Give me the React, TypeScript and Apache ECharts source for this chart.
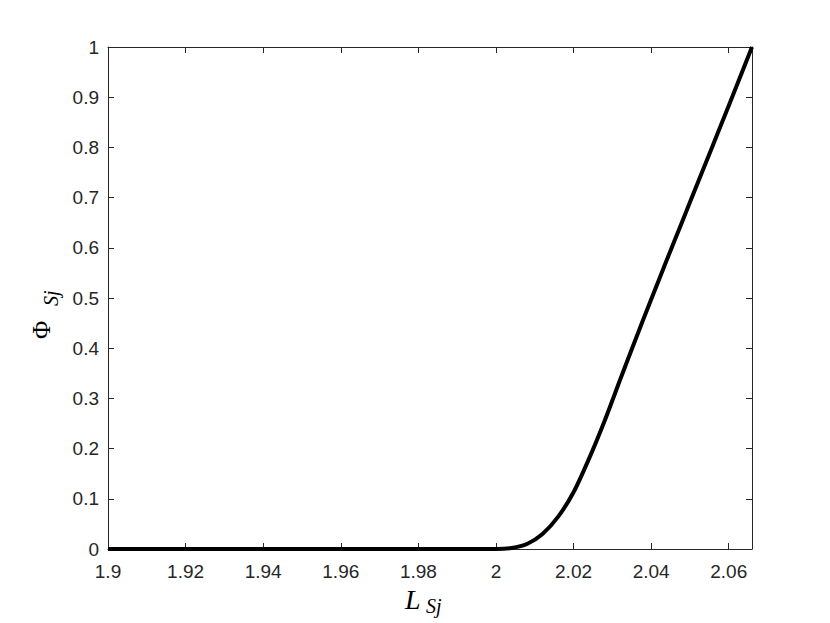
import React, { useEffect, useRef } from "react";
import * as echarts from "echarts";

// Data
const L_VALUES = [1.9, 2.0, 2.004, 2.008, 2.012, 2.016, 2.02, 2.024, 2.028, 2.032, 2.036, 2.04, 2.044, 2.048, 2.052, 2.056, 2.06, 2.066];
const PHI_VALUES = [0, 0, 0.002, 0.01, 0.03, 0.064, 0.113, 0.18, 0.255, 0.337, 0.418, 0.497, 0.575, 0.652, 0.729, 0.806, 0.883, 1.0];
const X_MIN = 1.9;
const X_MAX = 2.066;
const X_INTERVAL = 0.02;
const Y_MIN = 0;
const Y_MAX = 1;
const Y_INTERVAL = 0.1;

const AXIS_COLOR = "#262626";
const FONT = "'Liberation Sans', Arial, Helvetica, sans-serif";
const SERIF = "'Liberation Serif', 'DejaVu Serif', serif";

export default function App() {
  const ref = useRef<HTMLDivElement>(null);
  useEffect(() => {
    if (!ref.current) return;
    const chart = echarts.init(ref.current, undefined, { renderer: "svg" });
    const data = L_VALUES.map((x, i) => [x, PHI_VALUES[i]]);
    const axisCommon = {
      axisLine: { show: true, onZero: false, lineStyle: { color: AXIS_COLOR, width: 1 } },
      axisTick: { show: true, inside: true, length: 6, lineStyle: { color: AXIS_COLOR, width: 1 } },
      splitLine: { show: false },
    };
    chart.setOption({
      animation: false,
      backgroundColor: "#ffffff",
      grid: { left: 108, top: 47, right: 78, bottom: 74, containLabel: false },
      xAxis: [
        {
          type: "value",
          min: X_MIN,
          max: X_MAX,
          interval: X_INTERVAL,
          position: "bottom",
          ...axisCommon,
          axisLabel: {
            show: true,
            showMaxLabel: false,
            color: AXIS_COLOR,
            fontFamily: FONT,
            fontSize: 19,
            margin: 13,
            formatter: (v: number) => String(parseFloat(v.toFixed(3))),
          },
        },
        {
          type: "value",
          min: X_MIN,
          max: X_MAX,
          interval: X_INTERVAL,
          position: "top",
          ...axisCommon,
          axisLabel: { show: false },
        },
      ],
      yAxis: [
        {
          type: "value",
          min: Y_MIN,
          max: Y_MAX,
          interval: Y_INTERVAL,
          position: "left",
          ...axisCommon,
          axisLabel: {
            show: true,
            color: AXIS_COLOR,
            fontFamily: FONT,
            fontSize: 19,
            margin: 9,
            formatter: (v: number) => String(parseFloat(v.toFixed(2))),
          },
        },
        {
          type: "value",
          min: Y_MIN,
          max: Y_MAX,
          interval: Y_INTERVAL,
          position: "right",
          ...axisCommon,
          axisLabel: { show: false },
        },
      ],
      series: [
        {
          type: "line",
          data,
          xAxisIndex: 0,
          yAxisIndex: 0,
          showSymbol: false,
          symbol: "none",
          smooth: 0.25,
          lineStyle: { color: "#000000", width: 4 },
          z: 5,
        },
      ],
      graphic: [
        {
          type: "text",
          left: 405,
          top: 585,
          style: { text: "L", font: `italic 28px ${SERIF}`, fill: "#000" },
        },
        {
          type: "text",
          left: 426,
          top: 596,
          style: { text: "Sj", font: `italic 20px ${SERIF}`, fill: "#000" },
        },
        {
          type: "group",
          x: 29,
          y: 339,
          rotation: Math.PI / 2,
          children: [
            {
              type: "text",
              x: 0,
              y: 0,
              style: { text: "Φ", font: `25px ${SERIF}`, fill: "#000", verticalAlign: "top" },
            },
            {
              type: "text",
              x: 33,
              y: 12,
              style: { text: "Sj", font: `italic 20px ${SERIF}`, fill: "#000", verticalAlign: "top" },
            },
          ],
        },
      ],
    });
    return () => chart.dispose();
  }, []);
  return (
    <div
      ref={ref}
      style={{ position: "fixed", left: 0, top: 0, width: 830, height: 623, background: "#fff" }}
    />
  );
}
